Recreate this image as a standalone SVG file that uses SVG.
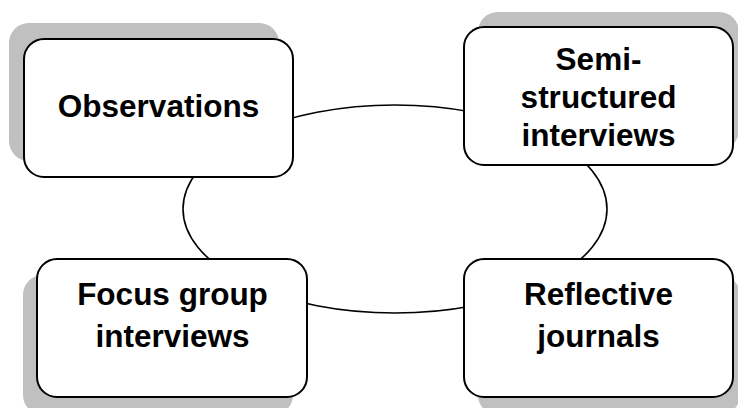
<svg xmlns="http://www.w3.org/2000/svg" width="738" height="408" viewBox="0 0 738 408">
<style>
.sh{fill:#c0c0c0;stroke:none}
.bx{fill:#fff;stroke:#000;stroke-width:2}
.t{font-family:"Liberation Sans",Arial,sans-serif;font-weight:bold;font-size:31.5px;fill:#000;text-anchor:middle}
.c{fill:none;stroke:#000;stroke-width:1.6}
</style>
<rect width="738" height="408" fill="#fff"/>
<g id="connectors">
<ellipse class="c" cx="395" cy="209" rx="212" ry="104"/>
</g>
<g id="observations">
<rect class="sh" x="9" y="23" width="270" height="138" rx="20"/>
<rect class="bx" x="24" y="39" width="269" height="138" rx="20"/>
<text class="t" x="158.5" y="117">Observations</text>
</g>
<g id="semi-structured">
<rect class="sh" x="478" y="12" width="261" height="138" rx="20"/>
<rect class="bx" x="464" y="27" width="269" height="138" rx="20"/>
<text class="t" x="598.5" y="70">Semi-</text>
<text class="t" x="598.5" y="108">structured</text>
<text class="t" x="598.5" y="146">interviews</text>
</g>
<g id="focus-group">
<rect class="sh" x="23" y="275" width="270" height="140" rx="20"/>
<rect class="bx" x="37" y="259" width="270" height="138" rx="20"/>
<text class="t" x="172.5" y="305">Focus group</text>
<text class="t" x="172.5" y="347">interviews</text>
</g>
<g id="reflective">
<rect class="sh" x="478" y="275" width="262" height="140" rx="20"/>
<rect class="bx" x="464" y="259" width="269" height="138" rx="20"/>
<text class="t" x="598.5" y="305">Reflective</text>
<text class="t" x="598.5" y="347">journals</text>
</g>
</svg>
